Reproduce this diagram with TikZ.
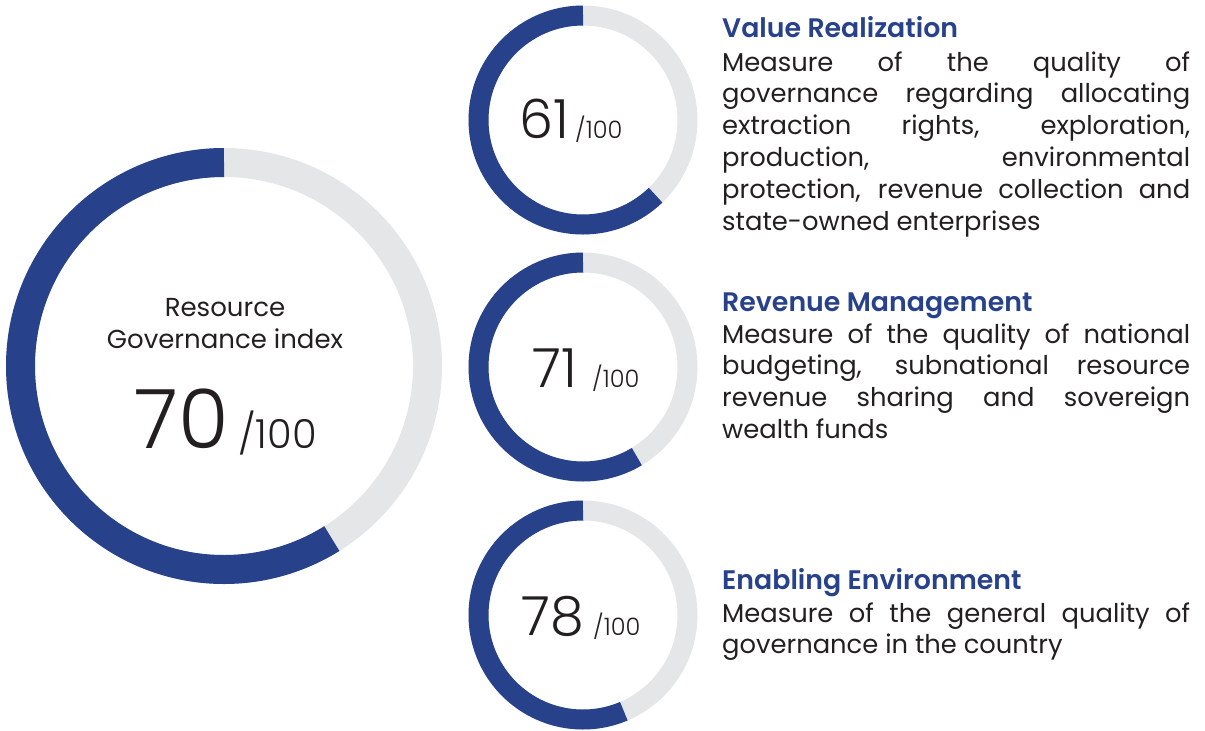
\documentclass[tikz,border=0pt]{standalone}
\usepackage{fontspec}
\setmainfont{Poppins}
\newfontfamily\thinfont{Poppins Light}
\newfontfamily\semifont{Poppins SemiBold}
\usetikzlibrary{positioning}
\definecolor{rgiblue}{HTML}{27418B}
\definecolor{rgigray}{HTML}{E5E6E8}
\definecolor{rgitext}{HTML}{231F20}
\hyphenpenalty=10000
\exhyphenpenalty=10000
\hbadness=10000

\begin{document}
\begin{tikzpicture}[x=1pt,y=1pt,
    track/.style={draw=rgigray, line width=#1},
    score/.style={draw=rgiblue, line width=#1},
    head/.style={anchor=base west, inner sep=0, text=rgiblue, font=\semifont\fontsize{26.8}{30}\selectfont},
    body/.style={anchor=base west, inner sep=0, text=rgitext, text width=468pt, align=justify, font=\fontsize{25.8}{31.8}\selectfont},
    big/.style={anchor=base east, inner sep=0, text=rgitext, font=\thinfont\fontsize{#1}{#1}\selectfont},
    outof/.style={anchor=base west, inner sep=0, text=rgitext, font=\thinfont\fontsize{#1}{#1}\selectfont}]
    \useasboundingbox (0,0) rectangle (1205,-731);

    \coordinate (I) at (224,-366);
    \coordinate (VR) at (583,-120);
    \coordinate (RM) at (583,-367);
    \coordinate (EE) at (583,-615);

    \draw[track=29] (I) circle (203.5);
    \draw[score=29] (I) ++(90:203.5) arc (90:302:203.5);
    \draw[track=20] (VR) circle (104.5);
    \draw[score=20] (VR) ++(90:104.5) arc (90:314:104.5);
    \draw[track=20] (RM) circle (104.5);
    \draw[score=20] (RM) ++(90:104.5) arc (90:301:104.5);
    \draw[track=20] (EE) circle (104.5);
    \draw[score=20] (EE) ++(90:104.5) arc (90:293:104.5);

    \node[anchor=base, inner sep=0, text=rgitext, font=\fontsize{26}{30}\selectfont] (Iname1) at (225,-316) {Resource};
    \node[anchor=base, inner sep=0, text=rgitext, font=\fontsize{26}{30}\selectfont] (Iname2) at (225,-348) {Governance index};
    \node[big=82] (Inum) at (229,-448) {70};
    \node[outof=40, right=9pt of Inum.base east, anchor=base west] (Iof) {/100};

    \node[big=54] (VRnum) at (569,-138) {61};
    \node[outof=24, right=6pt of VRnum.base east, anchor=base west] (VRof) {/100};
    \node[big=54] (RMnum) at (577,-387) {71};
    \node[outof=24, right=15pt of RMnum.base east, anchor=base west] (RMof) {/100};
    \node[big=54] (EEnum) at (584,-635) {78};
    \node[outof=24, right=9pt of EEnum.base east, anchor=base west] (EEof) {/100};

    \node[head] (VRhead) at (722,-37) {Value Realization};
    \node[body] (VRtext) at (722,-71) {Measure of the quality of\linebreak governance regarding allocating\linebreak extraction rights, exploration,\linebreak production, environmental\linebreak protection, revenue collection and\linebreak state-owned enterprises};

    \node[head] (RMhead) at (722,-311) {Revenue Management};
    \node[body] (RMtext) at (722,-343) {Measure of the quality of national\linebreak budgeting, subnational resource\linebreak revenue sharing and sovereign\linebreak wealth funds};

    \node[head] (EEhead) at (722,-589) {Enabling Environment};
    \node[body] (EEtext) at (722,-622) {Measure of the general quality of\linebreak governance in the country};
\end{tikzpicture}
\end{document}
